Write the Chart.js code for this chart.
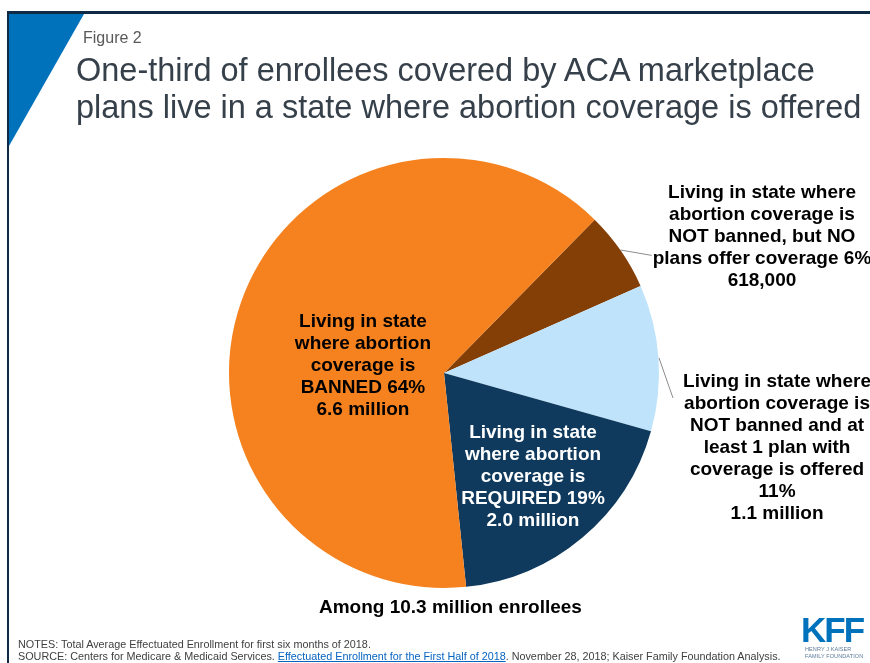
<!DOCTYPE html>
<html>
<head>
<meta charset="utf-8">
<script src="https://cdn.jsdelivr.net/npm/chart.js@4.4.1/dist/chart.umd.min.js"></script>
<style>
  html, body { margin: 0; padding: 0; background: #fff; }
  #wrap { position: relative; width: 870px; height: 663px; overflow: hidden; background: #fff; font-family: "Liberation Sans", Arial, sans-serif; }
  #frameTop { position: absolute; left: 7px; top: 11px; width: 870px; height: 3px; background: #0f2a45; }
  #frameLeft { position: absolute; left: 7px; top: 11px; width: 2px; height: 660px; background: #0f2a45; }
  #tri { position: absolute; left: 9px; top: 14px; width: 75px; height: 132px; background: #0072bc; clip-path: polygon(0 0, 100% 0, 0 100%); }
  #fig { position: absolute; left: 83px; top: 30px; font-size: 16px; line-height: 16px; color: #595959; white-space: nowrap; }
  #title { position: absolute; left: 76px; top: 51.5px; font-size: 32.5px; line-height: 37.5px; color: #36404a; white-space: nowrap; }
  #notes { position: absolute; left: 18px; top: 637.5px; font-size: 10.8px; line-height: 12px; color: #404040; white-space: nowrap; }
  #notes a { color: #0563c1; text-decoration: underline; }
  #kff { position: absolute; left: 801px; top: 612px; font-size: 35px; line-height: 35px; font-weight: bold; color: #0072bc; letter-spacing: -2px; white-space: nowrap; }
  #kffsub { position: absolute; left: 805px; top: 646px; font-size: 5.5px; line-height: 7px; color: #5a7a99; white-space: nowrap; letter-spacing: 0.1px; }
  canvas { position: absolute; left: 0; top: 0; }
</style>
</head>
<body>
<div id="wrap">
  <canvas id="c" width="870" height="663"></canvas>
  <div id="frameTop"></div>
  <div id="frameLeft"></div>
  <div id="tri"></div>
  <div id="fig">Figure 2</div>
  <div id="title">One-third of enrollees covered by ACA marketplace<br>plans live in a state where abortion coverage is offered</div>
  <div id="notes">NOTES: Total Average Effectuated Enrollment for first six months of 2018.<br>SOURCE: Centers for Medicare &amp; Medicaid Services. <a>Effectuated Enrollment for the First Half of 2018</a>. November 28, 2018; Kaiser Family Foundation Analysis.</div>
  <div id="kff">KFF</div>
  <div id="kffsub">HENRY J KAISER<br>FAMILY FOUNDATION</div>
</div>
<script>
// ---- data ----
const categories = [
  "NOT banned, but NO plans offer coverage",
  "NOT banned and at least 1 plan with coverage is offered",
  "REQUIRED",
  "BANNED"
];
const sharePercent = [6, 11, 19, 64];
const enrolleesText = ["618,000", "1.1 million", "2.0 million", "6.6 million"];
const sliceLabels = [
  ["Living in state where", "abortion coverage is", "NOT banned, but NO", "plans offer coverage 6%", "618,000"],
  ["Living in state where", "abortion coverage is", "NOT banned and at", "least 1 plan with", "coverage is offered", "11%", "1.1 million"],
  ["Living in state", "where abortion", "coverage is", "REQUIRED 19%", "2.0 million"],
  ["Living in state", "where abortion", "coverage is", "BANNED 64%", "6.6 million"]
];
const footerText = "Among 10.3 million enrollees";

// ---- styling (not data) ----
const sliceColors = ["#843f07", "#bee3fb", "#0f3a5d", "#f5821f"];
const labelColors = ["#000000", "#000000", "#ffffff", "#000000"];
// label anchor (first baseline) relative to pie centre, in units of radius
const labelAnchor = [[1.479, -0.814], [1.549, 0.065], [0.414, 0.302], [-0.377, -0.214]];
// leader lines (start, end) relative to pie centre, in radius units
const leaders = [[[0.822, -0.572], [0.966, -0.547]], [[1.0, -0.07], [1.065, 0.116]], null, null];

const labelPlugin = {
  id: 'sliceLabels',
  afterDraw(chart) {
    const ctx = chart.ctx;
    const meta = chart.getDatasetMeta(0);
    const a0 = meta.data[0];
    const cx = a0.x, cy = a0.y, r = a0.outerRadius;
    ctx.save();
    ctx.strokeStyle = '#8c8c8c';
    ctx.lineWidth = 1;
    leaders.forEach(l => {
      if (!l) return;
      ctx.beginPath();
      ctx.moveTo(cx + l[0][0] * r, cy + l[0][1] * r);
      ctx.lineTo(cx + l[1][0] * r, cy + l[1][1] * r);
      ctx.stroke();
    });
    ctx.font = 'bold 19px "Liberation Sans", Arial, sans-serif';
    ctx.textAlign = 'center';
    ctx.textBaseline = 'alphabetic';
    sliceLabels.forEach((lines, i) => {
      ctx.fillStyle = labelColors[i];
      const x = cx + labelAnchor[i][0] * r;
      const y0 = cy + labelAnchor[i][1] * r;
      lines.forEach((t, k) => ctx.fillText(t, x, y0 + k * 22));
    });
    ctx.fillStyle = '#000';
    ctx.fillText(footerText, cx + 0.03 * r, cy + r + 24.5);
    ctx.restore();
  }
};

new Chart(document.getElementById('c'), {
  type: 'pie',
  data: {
    labels: categories,
    datasets: [{
      data: sharePercent,
      backgroundColor: sliceColors,
      borderWidth: 0
    }]
  },
  options: {
    responsive: false,
    animation: false,
    devicePixelRatio: 1,
    rotation: 44.5,
    layout: { padding: { left: 229, right: 211, top: 158, bottom: 75 } },
    plugins: { legend: { display: false }, tooltip: { enabled: false } }
  },
  plugins: [labelPlugin]
});
</script>
</body>
</html>
